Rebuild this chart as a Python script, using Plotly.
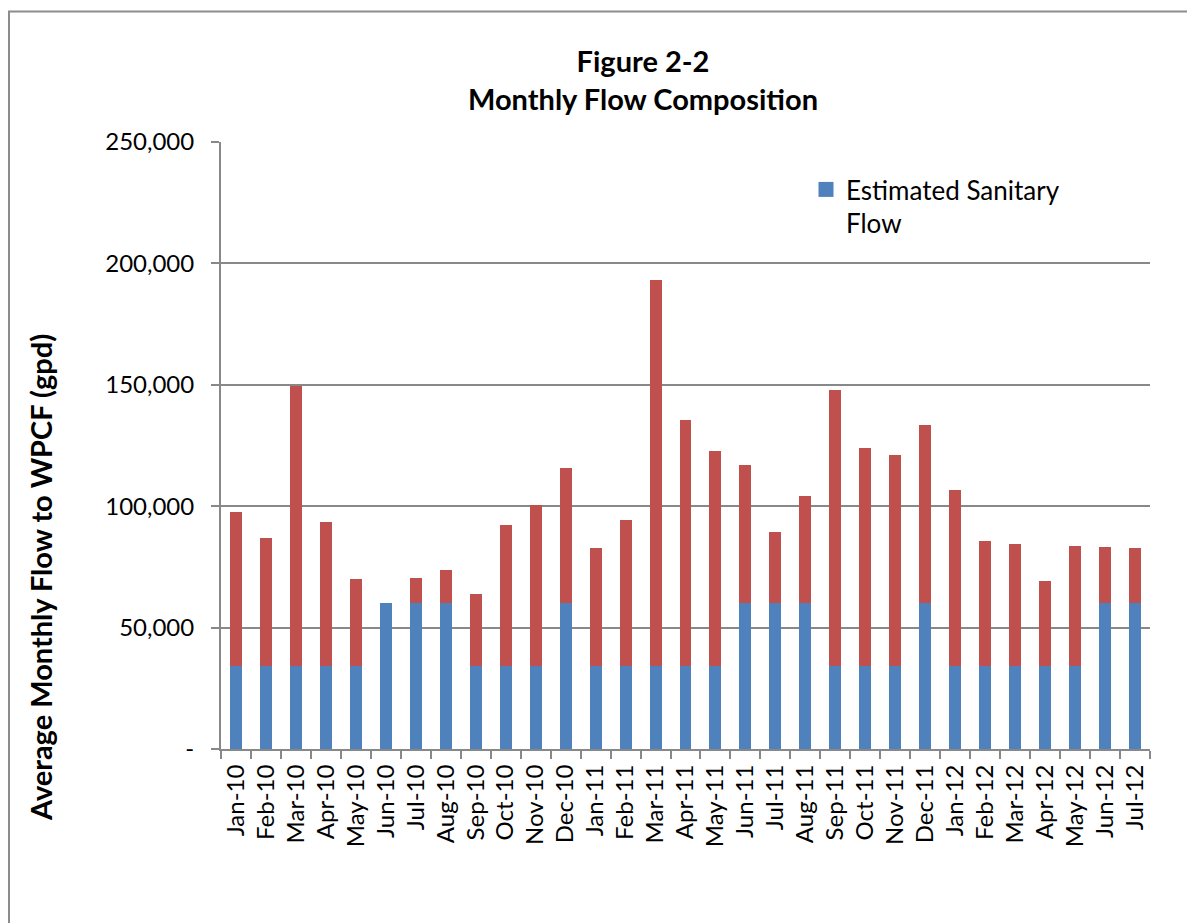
import plotly.graph_objects as go

months = ["Jan-10", "Feb-10", "Mar-10", "Apr-10", "May-10", "Jun-10", "Jul-10", "Aug-10",
          "Sep-10", "Oct-10", "Nov-10", "Dec-10", "Jan-11", "Feb-11", "Mar-11", "Apr-11",
          "May-11", "Jun-11", "Jul-11", "Aug-11", "Sep-11", "Oct-11", "Nov-11", "Dec-11",
          "Jan-12", "Feb-12", "Mar-12", "Apr-12", "May-12", "Jun-12", "Jul-12"]

sanitary = [34100, 34100, 34100, 34100, 34100, 60000, 60000, 60000,
            34100, 34100, 34100, 60000, 34100, 34100, 34100, 34100,
            34100, 60000, 60000, 60000, 34100, 34100, 34100, 60000,
            34100, 34100, 34100, 34100, 34100, 60000, 60000]

infiltration = [63700, 53000, 115600, 59600, 36000, 0, 10400, 13700,
                29700, 58100, 66300, 55800, 48800, 60300, 159200, 101500,
                88700, 56900, 29300, 44200, 113800, 89800, 86800, 73500,
                72700, 51400, 50300, 35300, 49600, 23100, 22600]

ytick_vals = [0, 50000, 100000, 150000, 200000, 250000]
ytick_text = ["-", "50,000", "100,000", "150,000", "200,000", "250,000"]

FONT = "Lato"
GRAY = "#888888"
BLUE = "#4F81BD"
RED = "#C0504D"

fig = go.Figure()
fig.add_trace(go.Bar(x=months, y=sanitary, name="Estimated Sanitary<br>Flow",
                     marker=dict(color=BLUE, line=dict(width=0)), showlegend=False,
                     legendgroup="san"))
fig.add_trace(go.Bar(x=months, y=infiltration, name="Infiltration/Inflow",
                     marker=dict(color=RED, line=dict(width=0)), showlegend=False))
# legend entry for the sanitary series (square swatch like the original)
fig.add_trace(go.Scatter(x=[None], y=[None], mode="markers", legendgroup="san",
                         name="Estimated Sanitary<br>Flow",
                         marker=dict(symbol="square", size=15, color=BLUE)))

L, R, T, B = 221, 37, 142, 174
W, H = 1187, 923
pw = W - L - R
ph = H - T - B

def px_x(p):
    return (p - L) / pw

def px_y(p):
    return (H - B - p) / ph

fig.update_layout(
    width=W, height=H, autosize=False,
    barmode="stack", bargap=0.6,
    plot_bgcolor="white", paper_bgcolor="white",
    margin=dict(l=L, r=R, t=T, b=B),
    font=dict(family=FONT, color="black"),
    showlegend=True,
    legend=dict(x=px_x(806), y=px_y(166), xanchor="left", yanchor="top",
                font=dict(size=26, family=FONT), bgcolor="rgba(0,0,0,0)",
                itemwidth=30, valign="top", itemsizing="trace"),
    xaxis=dict(type="category", showline=True, linecolor=GRAY, linewidth=2,
               ticks="outside", tickson="boundaries", ticklen=8, tickcolor=GRAY,
               tickwidth=2, tickangle=-90, tickfont=dict(size=24, family=FONT),
               ticklabelstandoff=4, showgrid=False),
    yaxis=dict(range=[0, 250000], tickvals=ytick_vals, ticktext=ytick_text,
               showline=True, linecolor=GRAY, linewidth=2,
               ticks="outside", ticklen=8, tickcolor=GRAY, tickwidth=2,
               showgrid=True, gridcolor=GRAY, gridwidth=2, zeroline=False,
               ticklabelstandoff=12,
               tickfont=dict(size=24, family=FONT)),
    annotations=[
        dict(text="<b>Figure 2-2</b><br><b>Monthly Flow Composition</b>",
             x=px_x(643), y=px_y(79), xref="paper", yref="paper",
             xanchor="center", yanchor="middle", showarrow=False,
             font=dict(size=29, family=FONT)),
        dict(text="<b>Average Monthly Flow to WPCF (gpd)</b>",
             x=px_x(40), y=px_y(578), xref="paper", yref="paper",
             xanchor="center", yanchor="middle", showarrow=False, textangle=-90,
             font=dict(size=29, family=FONT)),
    ],
    shapes=[
        dict(type="rect", xref="paper", yref="paper",
             x0=px_x(9), x1=px_x(1200), y0=px_y(940), y1=px_y(11.5),
             line=dict(color="#8c8c8c", width=2), fillcolor="rgba(0,0,0,0)",
             layer="below"),
    ],
)

fig.write_html("out.html", config={"displayModeBar": False},
               post_script="document.body.style.margin='0';document.body.style.overflow='hidden';")
